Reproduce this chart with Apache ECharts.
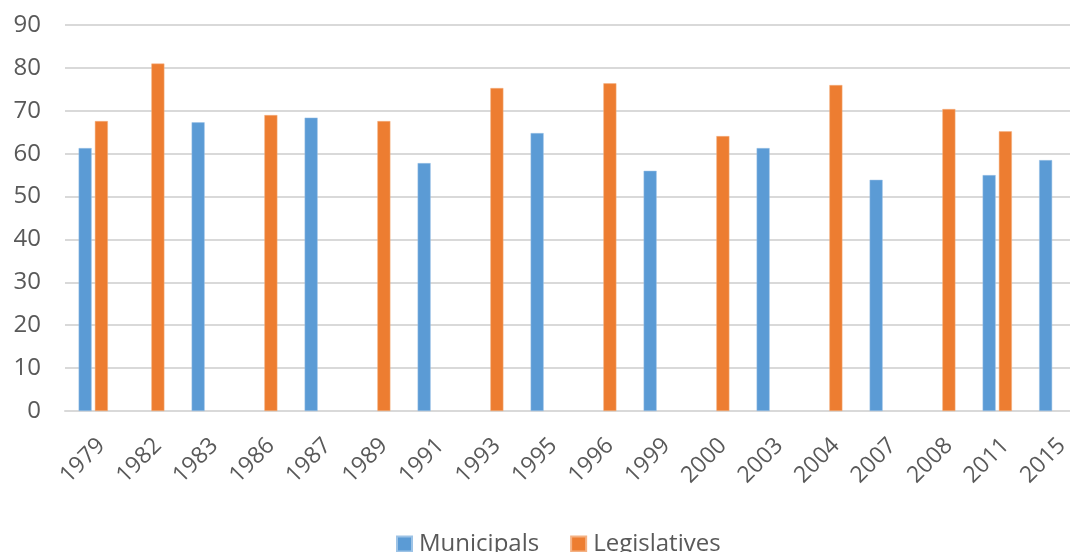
<!DOCTYPE html>
<html><head><meta charset="utf-8">
<script src="https://cdn.jsdelivr.net/npm/echarts@6/dist/echarts.min.js"></script>
<style>html,body{margin:0;padding:0;background:#fff;overflow:hidden}#c{width:1070px;height:552px}</style>
</head><body><div id="c"></div>
<script>
const categories = ['1979','1982','1983','1986','1987','1989','1991','1993','1995','1996','1999','2000','2003','2004','2007','2008','2011','2015'];
const municipals = [61.3, null, 67.3, null, 68.4, null, 57.8, null, 64.8, null, 56.0, null, 61.3, null, 53.9, null, 55.0, 58.5];
const legislatives = [67.6, 81.0, null, 69.0, null, 67.6, null, 75.3, null, 76.4, null, 64.1, null, 76.0, null, 70.4, 65.2, null];
const yTicks = {min: 0, max: 90, interval: 10};
const FONT = '"Open Sans", sans-serif';
const chart = echarts.init(document.getElementById('c'));
chart.setOption({
  animation: false,
  textStyle: {fontFamily: FONT},
  grid: {left: 65, right: -12, top: 25, bottom: 141, containLabel: false, outerBoundsMode: 'none'},
  legend: {
    top: 527, left: 391, itemWidth: 15, itemHeight: 15, itemGap: 31,
    icon: 'rect',
    textStyle: {fontFamily: FONT, fontSize: 24, color: '#595959', padding: [0, 0, 0, 2]},
    data: ['Municipals', 'Legislatives']
  },
  xAxis: {
    type: 'category', data: categories,
    axisLine: {lineStyle: {color: '#D9D9D9', width: 2}},
    axisTick: {show: false},
    axisLabel: {rotate: 45, fontSize: 23, color: '#595959', fontFamily: FONT, margin: 23,
      interval: 0, verticalAlign: 'top'}
  },
  yAxis: {
    type: 'value', min: yTicks.min, max: yTicks.max, interval: yTicks.interval,
    axisLine: {show: false}, axisTick: {show: false},
    splitLine: {lineStyle: {color: '#D9D9D9', width: 2}},
    axisLabel: {fontSize: 24, color: '#595959', fontFamily: FONT, margin: 24}
  },
  series: [
    {name: 'Municipals', type: 'bar', data: municipals, barWidth: 13, barGap: '25%',
     itemStyle: {color: '#5B9BD5', borderColor: '#9DC3E6', borderWidth: 0.5}},
    {name: 'Legislatives', type: 'bar', data: legislatives, barWidth: 13,
     itemStyle: {color: '#ED7D31', borderColor: '#F4B183', borderWidth: 0.5}}
  ]
});
</script></body></html>
